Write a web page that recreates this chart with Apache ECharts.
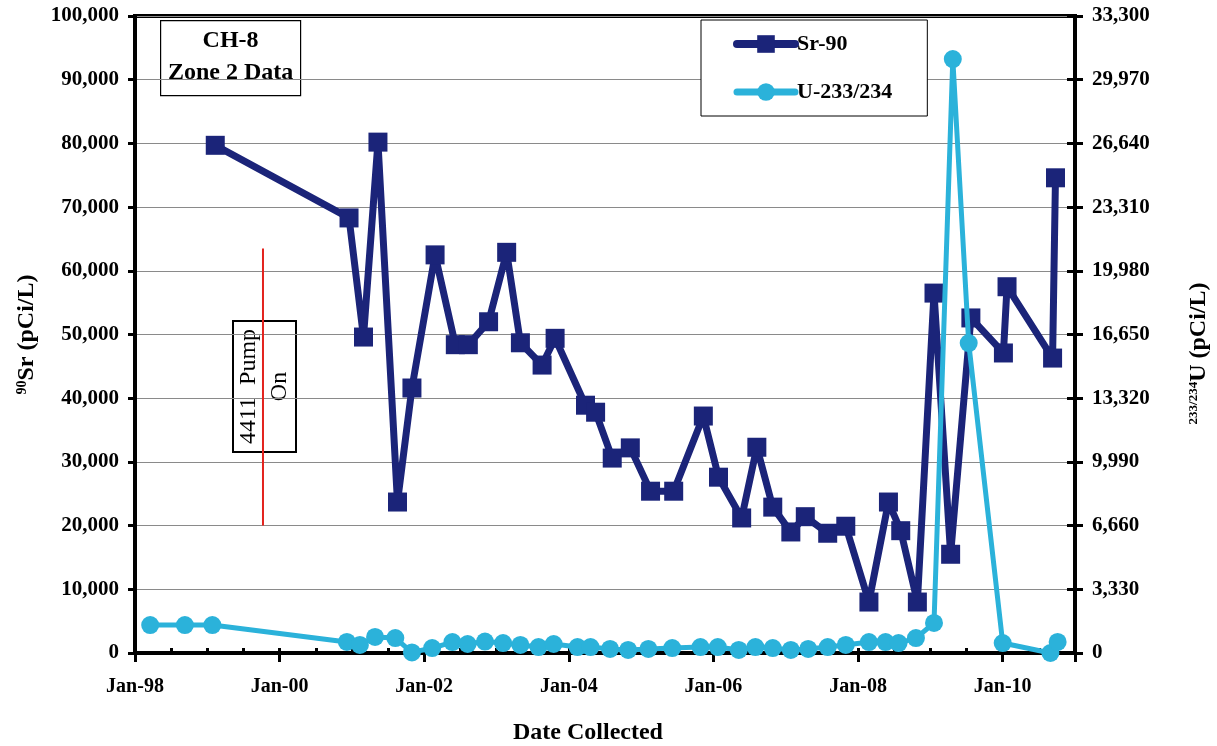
<!DOCTYPE html>
<html>
<head>
<meta charset="utf-8">
<script src="https://cdn.jsdelivr.net/npm/echarts@6/dist/echarts.min.js"></script>
<style>html,body{margin:0;padding:0;background:#fff;}#c{width:1217px;height:746px;}</style>
</head>
<body>
<div id="c"></div>
<script>
// Sampling dates (decimal years) and values
const srYears = [1999.11, 2000.96, 2001.16, 2001.36, 2001.63, 2001.83, 2002.15, 2002.43, 2002.61, 2002.89,
  2003.14, 2003.33, 2003.63, 2003.81, 2004.23, 2004.37, 2004.60, 2004.85, 2005.13, 2005.45,
  2005.86, 2006.07, 2006.39, 2006.60, 2006.82, 2007.07, 2007.27, 2007.58, 2007.83, 2008.15,
  2008.42, 2008.59, 2008.82, 2009.05, 2009.28, 2009.56, 2010.01, 2010.06, 2010.69, 2010.73];
const srValues = [79700, 68300, 49600, 80200, 23700, 41600, 62500, 48400, 48400, 52000,
  62900, 48700, 45200, 49400, 38900, 37800, 30600, 32200, 25400, 25400,
  37200, 27600, 21200, 32300, 22900, 19000, 21400, 18800, 19900, 8000,
  23700, 19200, 8000, 56500, 15500, 52600, 47100, 57500, 46300, 74600];

const uYears = [1998.21, 1998.69, 1999.07, 2000.93, 2001.11, 2001.32, 2001.60, 2001.83, 2002.11, 2002.39,
  2002.60, 2002.84, 2003.09, 2003.33, 2003.58, 2003.79, 2004.12, 2004.30, 2004.57, 2004.82,
  2005.10, 2005.43, 2005.82, 2006.06, 2006.35, 2006.58, 2006.82, 2007.07, 2007.31, 2007.58,
  2007.83, 2008.15, 2008.38, 2008.56, 2008.80, 2009.05, 2009.31, 2009.53, 2010.00, 2010.66, 2010.76];
const uValues = [1460, 1460, 1460, 580, 420, 840, 780, 30, 260, 570,
  470, 600, 520, 420, 310, 470, 310, 310, 210, 160,
  210, 260, 310, 310, 160, 310, 260, 160, 210, 310,
  420, 570, 570, 520, 780, 1570, 31050, 16200, 520, 0, 580];

// Pump-on annotation line (date, Sr range)
const pumpYears = [1999.77, 1999.77];
const pumpValues = [20000, 63500];

const seriesNames = ['Sr-90', 'U-233/234'];
const srAxis = {min: 0, max: 100000, interval: 10000};
const uAxis = {min: 0, max: 33300, interval: 3330};
const xAxisRange = {min: 1998, max: 2011, interval: 2};

const FONT = 'Liberation Serif';
const SR_COLOR = '#1B2479';
const U_COLOR = '#2BB2DA';
const fmt = v => Math.round(v).toLocaleString('en-US');
const zip = (xs, ys) => xs.map((x, i) => [x, ys[i]]);

const chart = echarts.init(document.getElementById('c'), null, {renderer: 'canvas'});
chart.setOption({
  animation: false,
  backgroundColor: '#fff',
  textStyle: {fontFamily: FONT},
  grid: {left: 135, right: 142, top: 16, bottom: 93, containLabel: false, outerBoundsMode: 'none',
    show: true, borderColor: '#000', borderWidth: 4, backgroundColor: 'transparent'},
  legend: {
    data: [
      {name: seriesNames[0], lineStyle: {width: 8, color: SR_COLOR, cap: 'round'}},
      {name: seriesNames[1], lineStyle: {width: 7, color: U_COLOR, cap: 'round'}}
    ],
    orient: 'vertical',
    left: 701, top: 20,
    padding: [13, 35, 13, 32],
    itemGap: 26,
    itemWidth: 58, itemHeight: 22,
    backgroundColor: '#fff',
    borderColor: '#000', borderWidth: 1,
    textStyle: {fontFamily: FONT, fontSize: 22, fontWeight: 'bold', color: '#000', padding: [0, 0, 0, -3]}
  },
  xAxis: [{
    type: 'value', min: xAxisRange.min, max: xAxisRange.max, interval: xAxisRange.interval,
    axisLine: {show: true, lineStyle: {color: '#000', width: 4}},
    axisTick: {show: true, inside: false, length: 9, lineStyle: {color: '#000', width: 3}},
    axisLabel: {
      margin: 24, color: '#000', fontFamily: FONT, fontSize: 20, fontWeight: 'bold',
      formatter: v => ((v - xAxisRange.min) % 2 === 0 && v < xAxisRange.max) ? 'Jan-' + String(v).slice(2) : ''
    },
    splitLine: {show: false},
    name: 'Date Collected', nameLocation: 'middle', nameGap: 68,
    nameTextStyle: {fontFamily: FONT, fontSize: 24, fontWeight: 'bold', color: '#000', padding: [0, 34, 0, 0]}
  }, {
    type: 'value', position: 'bottom', min: xAxisRange.min, max: xAxisRange.max, interval: 0.5,
    axisLine: {show: false},
    axisTick: {show: true, inside: true, length: 5, lineStyle: {color: '#000', width: 3}},
    axisLabel: {show: false}, splitLine: {show: false}
  }],
  yAxis: [{
    type: 'value', position: 'left', min: srAxis.min, max: srAxis.max, interval: srAxis.interval,
    axisLine: {show: true, lineStyle: {color: '#000', width: 4}},
    axisTick: {show: true, inside: false, length: 7, lineStyle: {color: '#000', width: 3}},
    axisLabel: {margin: 16, color: '#000', fontFamily: FONT, fontSize: 21, fontWeight: 'bold', formatter: fmt},
    splitLine: {show: true, lineStyle: {color: '#8a8a8a', width: 1}},
    name: '{sup|90}{t|Sr (pCi/L)}', nameLocation: 'middle', nameRotate: 90, nameGap: 96,
    nameTextStyle: {
      rich: {
        sup: {fontFamily: FONT, fontSize: 14, fontWeight: 'bold', color: '#000', padding: [0, 0, 10, 0]},
        t: {fontFamily: FONT, fontSize: 24, fontWeight: 'bold', color: '#000'}
      }
    }
  }, {
    type: 'value', position: 'right', min: uAxis.min, max: uAxis.max, interval: uAxis.interval,
    axisLine: {show: true, lineStyle: {color: '#000', width: 4}},
    axisTick: {show: true, inside: false, length: 8, lineStyle: {color: '#000', width: 3}},
    axisLabel: {margin: 17, color: '#000', fontFamily: FONT, fontSize: 21, fontWeight: 'bold', formatter: fmt},
    splitLine: {show: false},
    name: '{sup|233/234}{t|U (pCi/L)}', nameLocation: 'middle', nameRotate: 90, nameGap: 112,
    nameTextStyle: {
      padding: [0, 38, 0, 0],
      rich: {
        sup: {fontFamily: FONT, fontSize: 13, fontWeight: 'bold', color: '#000', padding: [0, 0, 10, 0]},
        t: {fontFamily: FONT, fontSize: 24, fontWeight: 'bold', color: '#000'}
      }
    }
  }, {
    type: 'value', position: 'right', min: uAxis.min, max: uAxis.max, interval: uAxis.interval,
    axisLine: {show: false},
    axisTick: {show: true, inside: true, length: 8, lineStyle: {color: '#000', width: 3}},
    axisLabel: {show: false}, splitLine: {show: false}
  }],
  series: [{
    name: seriesNames[0], type: 'line', xAxisIndex: 0, yAxisIndex: 0,
    data: zip(srYears, srValues),
    symbol: 'rect', symbolSize: 19,
    itemStyle: {color: SR_COLOR},
    lineStyle: {color: SR_COLOR, width: 7},
    z: 3
  }, {
    name: seriesNames[1], type: 'line', xAxisIndex: 0, yAxisIndex: 1,
    data: zip(uYears, uValues),
    symbol: 'circle', symbolSize: 18,
    itemStyle: {color: U_COLOR},
    lineStyle: {color: U_COLOR, width: 5},
    z: 4
  }, {
    name: 'pump', type: 'line', xAxisIndex: 0, yAxisIndex: 0,
    data: zip(pumpYears, pumpValues),
    symbol: 'none', lineStyle: {color: '#E3231E', width: 2}, z: 2, silent: true
  }],
  graphic: [{
    type: 'group', left: 160, top: 20, z: 10,
    children: [{
      type: 'rect', shape: {x: 0, y: 0, width: 140, height: 75},
      style: {fill: '#fff', stroke: '#000', lineWidth: 1.2}
    }, {
      type: 'text', x: 70, y: 36,
      style: {text: 'CH-8\nZone 2 Data', align: 'center', verticalAlign: 'middle', textAlign: 'center', textVerticalAlign: 'middle',
        fontFamily: FONT, fontSize: 24, fontWeight: 'bold', lineHeight: 32, fill: '#000'}
    }]
  }, {
    type: 'group', x: 264.5, y: 386.5, rotation: Math.PI / 2, z: 10,
    children: [{
      type: 'rect', shape: {x: -65.5, y: -31.5, width: 131, height: 63},
      style: {fill: '#fff', stroke: '#000', lineWidth: 2}
    }, {
      type: 'text', x: 0, y: 0,
      style: {text: '4411  Pump\nOn', align: 'center', verticalAlign: 'middle', textAlign: 'center', textVerticalAlign: 'middle',
        fontFamily: FONT, fontSize: 24, lineHeight: 31, fill: '#000'}
    }]
  }]
});
</script>
</body>
</html>
